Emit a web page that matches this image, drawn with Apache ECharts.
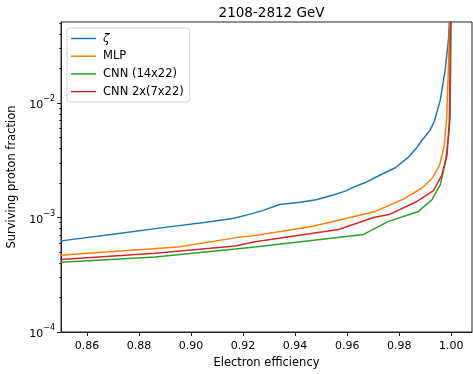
<!DOCTYPE html>
<html>
<head>
<meta charset="utf-8">
<script src="https://cdn.jsdelivr.net/npm/echarts@6/dist/echarts.min.js"></script>
<style>
  html, body { margin: 0; padding: 0; background: #fff; }
  #chart { width: 473px; height: 374px; }
</style>
</head>
<body>
<div id="chart"></div>
<script>
// data (electron efficiency -> surviving proton fraction)
var zetaEff  = [0.85, 0.87, 0.89, 0.905, 0.916, 0.9227, 0.928, 0.934, 0.942, 0.948, 0.955, 0.9592, 0.963, 0.967, 0.9727, 0.9785, 0.9836, 0.9865, 0.9887, 0.9919, 0.9936, 0.9958, 0.9977, 0.999, 0.9995];
var zetaFrac = [6.25e-4, 7.15e-4, 8.2e-4, 9.05e-4, 9.8e-4, 1.07e-3, 1.16e-3, 1.3e-3, 1.36e-3, 1.43e-3, 1.58e-3, 1.7e-3, 1.86e-3, 2.02e-3, 2.35e-3, 2.72e-3, 3.37e-3, 4.0e-3, 4.7e-3, 5.8e-3, 7.0e-3, 1.06e-2, 1.94e-2, 3.7e-2, 6.5e-2];

var mlpEff  = [0.85, 0.87, 0.895, 0.9188, 0.9246, 0.9464, 0.9708, 0.9765, 0.9817, 0.9887, 0.9926, 0.9955, 0.9973, 0.9982, 0.9987, 0.9996];
var mlpFrac = [4.68e-4, 5.05e-4, 5.52e-4, 6.74e-4, 6.97e-4, 8.35e-4, 1.13e-3, 1.29e-3, 1.45e-3, 1.81e-3, 2.18e-3, 2.85e-3, 4.2e-3, 7.1e-3, 1.38e-2, 6.5e-2];

var cnnEff  = [0.85, 0.8862, 0.917, 0.9246, 0.9663, 0.9759, 0.9874, 0.9926, 0.9958, 0.9977, 0.999, 0.9996, 1.0];
var cnnFrac = [4.06e-4, 4.52e-4, 5.3e-4, 5.52e-4, 7.12e-4, 9.25e-4, 1.13e-3, 1.43e-3, 1.93e-3, 3.0e-3, 5.1e-3, 7.5e-3, 6.5e-2];

var cnn2Eff  = [0.85, 0.8862, 0.917, 0.9246, 0.9567, 0.9701, 0.9765, 0.9868, 0.9932, 0.9964, 0.9984, 0.9993, 0.9998];
var cnn2Frac = [4.3e-4, 4.87e-4, 5.65e-4, 6.15e-4, 7.87e-4, 1.0e-3, 1.07e-3, 1.38e-3, 1.72e-3, 2.35e-3, 3.5e-3, 7.1e-3, 6.5e-2];

var seriesNames  = ['ζ', 'MLP', 'CNN (14x22)', 'CNN 2x(7x22)'];
var seriesColors = ['#1f77b4', '#ff7f0e', '#2ca02c', '#d62728'];

var xTicks = [0.86, 0.88, 0.90, 0.92, 0.94, 0.96, 0.98, 1.00];
var yMajor = [1e-4, 1e-3, 1e-2];
var yMinor = [2e-4, 3e-4, 4e-4, 5e-4, 6e-4, 7e-4, 8e-4, 9e-4,
              2e-3, 3e-3, 4e-3, 5e-3, 6e-3, 7e-3, 8e-3, 9e-3,
              2e-2, 3e-2, 4e-2, 5e-2];

function zip(xs, ys) {
    var out = [];
    for (var i = 0; i < xs.length; i++) out.push([xs[i], ys[i]]);
    return out;
}

var font = 'DejaVu Sans';
var axisCol = '#222';

var chart = echarts.init(document.getElementById('chart'), null, {renderer: 'canvas'});

var series = [
    zip(zetaEff, zetaFrac),
    zip(mlpEff, mlpFrac),
    zip(cnnEff, cnnFrac),
    zip(cnn2Eff, cnn2Frac)
].map(function (d, i) {
    return {
        name: seriesNames[i],
        type: 'line',
        data: d,
        symbol: 'none',
        yAxisIndex: 0,
        lineStyle: {color: seriesColors[i], width: 1.5},
        itemStyle: {color: seriesColors[i]},
        clip: true,
        animation: false
    };
});

var option = {
    animation: false,
    title: {
        text: '2108-2812 GeV',
        left: 266.5,
        textAlign: 'center',
        top: 1,
        textStyle: {fontFamily: font, fontSize: 13.5, fontWeight: 'normal', color: '#000'}
    },
    grid: {
        left: 61, right: 1, top: 22, bottom: 42,
        outerBoundsMode: 'none',
        containLabel: false,
        show: true, borderColor: axisCol, borderWidth: 1, backgroundColor: 'transparent'
    },
    legend: {
        orient: 'vertical',
        left: 67, top: 28,
        data: seriesNames,
        icon: 'rect',
        itemWidth: 25, itemHeight: 1.5,
        itemGap: 4.7,
        padding: [4, 6, 4, 4],
        backgroundColor: '#fff',
        borderColor: '#d0d0d0', borderWidth: 1, borderRadius: 3,
        textStyle: {
            fontFamily: font, fontSize: 11.5, color: '#000', lineHeight: 13, padding: [0, 0, 0, 2],
            rich: {i: {fontStyle: 'italic', fontFamily: font, fontSize: 12}}
        },
        formatter: function (n) { return n === 'ζ' ? '{i|ζ}' : n; }
    },
    xAxis: {
        type: 'value',
        min: 0.85, max: 1.008,
        name: 'Electron efficiency',
        nameLocation: 'middle', nameGap: 24,
        nameTextStyle: {fontFamily: font, fontSize: 11.5, color: '#000'},
        axisLine: {show: true, onZero: false, lineStyle: {color: axisCol, width: 1}},
        axisTick: {show: true, length: 4, lineStyle: {color: axisCol}, customValues: xTicks},
        axisLabel: {
            fontFamily: font, fontSize: 11, color: '#000', margin: 9,
            customValues: xTicks,
            formatter: function (v) { return v.toFixed(2); }
        },
        splitLine: {show: false}
    },
    yAxis: [{
        type: 'log', logBase: 10,
        min: 1e-4, max: 0.051,
        name: 'Surviving proton fraction',
        nameLocation: 'middle', nameGap: 41,
        nameTextStyle: {fontFamily: font, fontSize: 11.5, color: '#000'},
        axisLine: {show: true, lineStyle: {color: axisCol, width: 1}},
        axisTick: {show: true, length: 4, lineStyle: {color: axisCol}, customValues: yMajor},
        axisLabel: {
            customValues: yMajor,
            margin: 6,
            formatter: function (v) {
                var e = Math.round(Math.log10(v));
                return '{b|10}{s|\u2212' + Math.abs(e) + '}';
            },
            rich: {
                b: {fontFamily: font, fontSize: 11, color: '#000', verticalAlign: 'bottom', lineHeight: 16},
                s: {fontFamily: font, fontSize: 8, color: '#000', verticalAlign: 'top', lineHeight: 16, padding: [0, 0, 8, 0]}
            }
        },
        splitLine: {show: false}
    }, {
        type: 'log', logBase: 10,
        min: 1e-4, max: 0.051,
        position: 'left',
        axisLine: {show: false},
        axisTick: {show: true, length: 2, lineStyle: {color: axisCol, width: 0.8}, customValues: yMinor},
        axisLabel: {show: false},
        splitLine: {show: false}
    }],
    series: series
};

chart.setOption(option);
</script>
</body>
</html>
